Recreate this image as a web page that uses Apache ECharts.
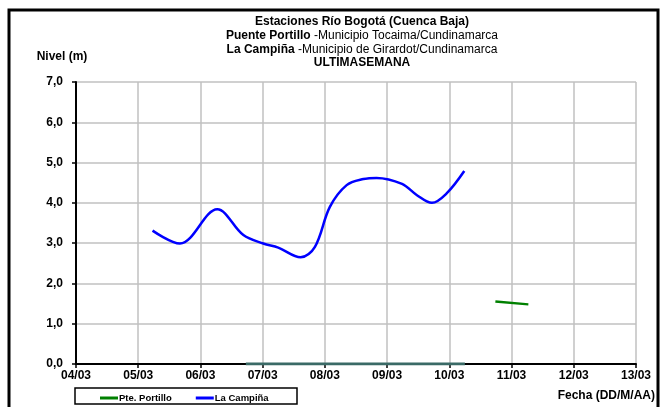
<!DOCTYPE html>
<html><head><meta charset="utf-8">
<script src="https://cdn.jsdelivr.net/npm/echarts@6/dist/echarts.min.js"></script>
<style>html,body{margin:0;padding:0;background:#fff}#c{width:664px;height:407px}</style>
</head><body><div id="c"></div>
<script>
// Day of March (fractional) and level (m)
const campinaDays = [5.23, 5.67, 6.27, 6.69, 7.01, 7.25, 7.61, 7.84, 8.08, 8.35, 8.62, 8.83, 9.24, 9.48, 9.72, 9.96, 10.24];
const campinaVals = [3.31, 2.99, 3.84, 3.20, 2.99, 2.89, 2.65, 2.91, 3.90, 4.44, 4.59, 4.62, 4.47, 4.19, 4.00, 4.24, 4.79];
const portilloZeroDays = [6.73, 10.25];
const portilloZeroVals = [0, 0];
const portilloDays = [10.74, 11.27];
const portilloVals = [1.55, 1.48];
const tickLabels = ['04/03','05/03','06/03','07/03','08/03','09/03','10/03','11/03','12/03','13/03'];
const yTicks = ['0,0','1,0','2,0','3,0','4,0','5,0','6,0','7,0'];

const zip = (a, b) => a.map((d, i) => [d, b[i]]);
const F = 'Liberation Sans, Arial, sans-serif';
const chart = echarts.init(document.getElementById('c'));
chart.setOption({
  animation: false,
  backgroundColor: '#fff',
  grid: {left: 76, right: 28, top: 82, bottom: 43, containLabel: false},
  xAxis: {
    type: 'value', min: 4, max: 13, interval: 1,
    axisLine: {lineStyle: {color: '#000', width: 2}},
    axisTick: {show: true, length: 4, lineStyle: {color: '#000', width: 1.5}},
    axisLabel: {formatter: v => tickLabels[Math.round(v - 4)], fontFamily: F, fontWeight: 'bold', fontSize: 12, color: '#000', margin: 6},
    splitLine: {show: true, lineStyle: {color: '#c0c0c0', width: 1.5}}
  },
  yAxis: {
    type: 'value', min: 0, max: 7, interval: 1,
    axisLine: {show: true, lineStyle: {color: '#000', width: 2}},
    axisTick: {show: true, length: 4, lineStyle: {color: '#000', width: 1.5}},
    axisLabel: {formatter: v => yTicks[Math.round(v)], fontFamily: F, fontWeight: 'bold', fontSize: 12, color: '#000', margin: 13},
    splitLine: {show: true, lineStyle: {color: '#c0c0c0', width: 1.5}}
  },
  legend: {
    left: 95, top: 388, itemWidth: 18, itemHeight: 3, itemGap: 24, icon: 'rect',
    data: ['Pte. Portillo', 'La Campiña'],
    textStyle: {fontFamily: F, fontWeight: 'bold', fontSize: 9.5, color: '#000', padding: [0, 0, 0, -4]}
  },
  series: [
    {name: 'Pte. Portillo', type: 'line', data: zip(portilloDays, portilloVals), showSymbol: false, color: '#008000', lineStyle: {width: 2.5, color: '#008000'}, z: 3},
    {name: 'Pte. Portillo', type: 'line', data: zip(portilloZeroDays, portilloZeroVals), showSymbol: false, color: '#008000', lineStyle: {width: 3, color: '#3a6a66'}, z: 4},
    {name: 'La Campiña', type: 'line', data: zip(campinaDays, campinaVals), showSymbol: false, smooth: 0.35, color: '#0000ff', lineStyle: {width: 2.5, color: '#0000ff'}, z: 3}
  ],
  graphic: [
    {type: 'rect', shape: {x: 9, y: 10, width: 649, height: 420}, style: {fill: 'none', stroke: '#000', lineWidth: 3}, z: 10},
    {type: 'rect', shape: {x: 75, y: 388, width: 222, height: 16}, style: {fill: 'none', stroke: '#000', lineWidth: 1.5}, z: 10},
    {type: 'text', x: 362, y: 15, style: {
      text: '{b|Estaciones Río Bogotá (Cuenca Baja)}\n{b|Puente Portillo}{n| -Municipio Tocaima/Cundinamarca}\n{b|La Campiña}{n| -Municipio de Girardot/Cundinamarca}\n{b|ULTIMASEMANA}',
      align: 'center', verticalAlign: 'top', fill: '#000',
      rich: {
        b: {fontFamily: F, fontWeight: 'bold', fontSize: 12, lineHeight: 13.7, fill: '#000'},
        n: {fontFamily: F, fontSize: 12, lineHeight: 13.7, fill: '#000'}
      }
    }},
    {type: 'text', x: 62, y: 57, style: {text: 'Nivel (m)', align: 'center', verticalAlign: 'middle', fontFamily: F, fontWeight: 'bold', fontSize: 12, fill: '#000'}},
    {type: 'text', x: 655, y: 396, style: {text: 'Fecha (DD/M/AA)', align: 'right', verticalAlign: 'middle', fontFamily: F, fontWeight: 'bold', fontSize: 12, fill: '#000'}}
  ]
});
</script></body></html>
